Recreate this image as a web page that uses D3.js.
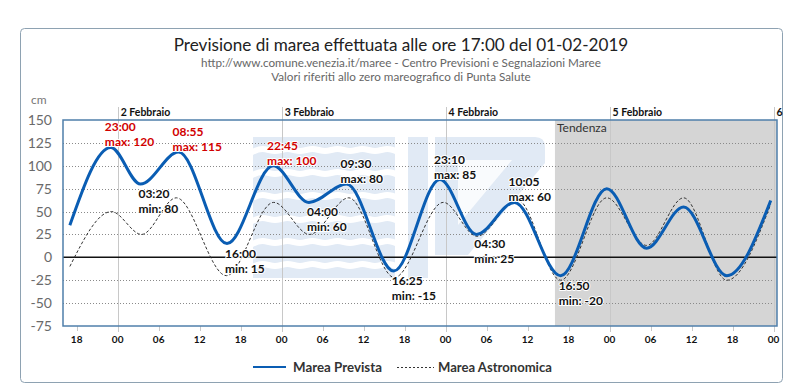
<!DOCTYPE html>
<html>
<head>
<meta charset="utf-8">
<script src="https://cdnjs.cloudflare.com/ajax/libs/d3/7.8.5/d3.min.js"></script>
<style>
body{margin:0;background:#fff;}
svg{display:block;font-family:Lato,"DejaVu Sans",sans-serif;}
</style>
</head>
<body>
<div class="graph"></div>
<script>
// marea prevista (extremes + ends), cm
var prevTimes = ["2019-02-01 17:00","2019-02-01 23:00","2019-02-02 03:20","2019-02-02 08:55","2019-02-02 16:00","2019-02-02 22:45",
	"2019-02-03 04:00","2019-02-03 09:30","2019-02-03 16:25","2019-02-03 23:10","2019-02-04 04:30","2019-02-04 10:05",
	"2019-02-04 16:50","2019-02-04 23:35","2019-02-05 05:25","2019-02-05 10:50","2019-02-05 17:10","2019-02-05 23:35"];
var prevValues = [35,120,80,115,15,100,60,80,-15,85,25,60,-20,75,10,55,-20,62];

// marea astronomica
var astroTimes = ["2019-02-01 17:00","2019-02-01 23:05","2019-02-02 03:30","2019-02-02 08:35","2019-02-02 15:55","2019-02-02 22:50",
	"2019-02-03 04:05","2019-02-03 09:50","2019-02-03 16:30","2019-02-03 23:40","2019-02-04 04:35","2019-02-04 10:30",
	"2019-02-04 16:50","2019-02-04 23:35","2019-02-05 05:25","2019-02-05 10:50","2019-02-05 17:10","2019-02-05 23:35"];
var astroValues = [-10,50,25,65,-20,60,25,65,-22,60,23,63,-25,65,13,65,-25,58];

// labelled extremes (forecast part only)
var labelTimes = ["2019-02-01 23:00","2019-02-02 03:20","2019-02-02 08:55","2019-02-02 16:00","2019-02-02 22:45","2019-02-03 04:00",
	"2019-02-03 09:30","2019-02-03 16:25","2019-02-03 23:10","2019-02-04 04:30","2019-02-04 10:05","2019-02-04 16:50"];
var labelValues = [120,80,115,15,100,60,80,-15,85,25,60,-20];
var labelKinds = ["max","min","max","min","max","min","max","min","max","min","max","min"];

var yTicks = [150,125,100,75,50,25,0,-25,-50,-75];
var dayLabels = ["2 Febbraio","3 Febbraio","4 Febbraio","5 Febbraio","6"];
var xStart = "2019-02-01 16:00", xEnd = "2019-02-06 00:30";
var trendStart = "2019-02-04 16:00";

var title = "Previsione di marea effettuata alle ore 17:00 del 01-02-2019";
var subtitle1 = "http://www.comune.venezia.it/maree - Centro Previsioni e Segnalazioni Maree";
var subtitle2 = "Valori riferiti allo zero mareografico di Punta Salute";

var parse = d3.timeParse("%Y-%m-%d %H:%M");
var hm = d3.timeFormat("%H:%M");

var W = 800, H = 386;
var plot = {left: 63, top: 120, right: 777, bottom: 326};

var x = d3.scaleTime().domain([parse(xStart), parse(xEnd)]).range([plot.left, plot.right]);
var y = d3.scaleLinear().domain([-75, 150]).range([plot.bottom, plot.top]);

var svg = d3.select(".graph").append("svg").attr("width", W).attr("height", H);

// frame
svg.append("rect").attr("x", 20.5).attr("y", 28.5).attr("width", 762).attr("height", 354).attr("rx", 4)
	.style("fill", "#fff").style("stroke", "#8ea2b2");

svg.append("clipPath").attr("id", "plotclip").append("rect")
	.attr("x", plot.left).attr("y", plot.top).attr("width", plot.right - plot.left).attr("height", plot.bottom - plot.top);

function fitText(sel, target) {
	var fs = parseFloat(sel.style("font-size"));
	var w = sel.node().getComputedTextLength();
	sel.style("font-size", (fs * target / w) + "px");
	return fs * target / w;
}

// titles
var cx = 401;
var t = svg.append("text").attr("x", cx).attr("y", 51).attr("text-anchor", "middle")
	.style("font-size", "17px").style("fill", "#222").text(title);
fitText(t, 455);
var s1 = svg.append("text").attr("x", cx).attr("y", 67).attr("text-anchor", "middle")
	.style("font-size", "11px").style("fill", "#666").text(subtitle1);
var fs1 = fitText(s1, 400);
svg.append("text").attr("x", cx).attr("y", 81).attr("text-anchor", "middle")
	.style("font-size", fs1 + "px").style("fill", "#666").text(subtitle2);

svg.append("text").attr("x", 31).attr("y", 104).style("font-size", "12px").style("fill", "#777").text("cm");

// tendenza zone
svg.append("rect").attr("x", x(parse(trendStart))).attr("y", plot.top)
	.attr("width", plot.right - x(parse(trendStart))).attr("height", plot.bottom - plot.top)
	.style("fill", "#d5d5d5");

// watermark
var wm = svg.append("g").attr("clip-path", "url(#plotclip)").style("fill", "#e1eaf5");
wm.append("rect").attr("x", 253).attr("y", 137).attr("width", 142).attr("height", 141);
var waveLine = d3.line().curve(d3.curveBasis);
for (var i = 0; i < 6; i++) {
	var pts = [];
	for (var k = 0; k <= 12; k++) {
		pts.push([250 + k * 12.5, 150 + i * 23 + (k % 2 ? -3 : 3)]);
	}
	wm.append("path").attr("d", waveLine(pts)).style("fill", "none").style("stroke", "#fff").style("stroke-width", 6);
}
wm.append("rect").attr("x", 408).attr("y", 137).attr("width", 20).attr("height", 141);
wm.append("path").attr("d", "M435,137 L535,137 Q545,137 545,147 L545,163 L468,255 L435,255 Z");
wm.append("path").attr("d", "M458,160 L512,160 L458,225 Z").style("fill", "#fff").style("opacity", 0.8);

// horizontal grid
var g = svg.append("g");
g.selectAll(".hgrid").data(yTicks.filter(function (d) { return d !== 0 && d !== 150 && d !== -75; }))
	.enter().append("line").attr("class", "hgrid")
	.attr("x1", plot.left).attr("x2", plot.right)
	.attr("y1", function (d) { return Math.round(y(d)) + 0.5; }).attr("y2", function (d) { return Math.round(y(d)) + 0.5; })
	.style("stroke", "#8a8a8a").style("stroke-dasharray", "1,2");

// day grid lines (extend above & below plot)
var days = dayLabels.map(function (d, i) { return d3.timeDay.offset(parse("2019-02-02 00:00"), i); });
g.selectAll(".vgrid").data(days).enter().append("line").attr("class", "vgrid")
	.attr("x1", function (d) { return Math.round(x(d)) + 0.5; }).attr("x2", function (d) { return Math.round(x(d)) + 0.5; })
	.attr("y1", 107).attr("y2", plot.bottom + 6)
	.style("stroke", "#c8c8c8");

// zero line
g.append("line").attr("x1", plot.left).attr("x2", plot.right).attr("y1", y(0)).attr("y2", y(0))
	.style("stroke", "#111").style("stroke-width", 1.5);

// day labels on top
svg.append("g").selectAll("text").data(days).enter().append("text")
	.attr("x", function (d) { return x(d) + 3; }).attr("y", 116)
	.style("font-size", "10.5px").style("font-weight", "bold").style("fill", "#111")
	.text(function (d, i) { return dayLabels[i]; });

// y axis labels
svg.selectAll(".ylab").data(yTicks).enter().append("text").attr("class", "ylab")
	.attr("x", 52).attr("y", function (d) { return y(d) + 5; }).attr("text-anchor", "end")
	.style("font-size", "14px").style("fill", "#6a6a6a")
	.text(function (d) { return d; });

// x axis ticks every 6h
var xTicks = d3.timeHour.every(6).range(parse("2019-02-01 18:00"), parse("2019-02-06 00:01"));
svg.selectAll(".xt").data(xTicks).enter().append("line").attr("class", "xt")
	.attr("x1", function (d) { return Math.round(x(d)) + 0.5; }).attr("x2", function (d) { return Math.round(x(d)) + 0.5; })
	.attr("y1", plot.bottom).attr("y2", plot.bottom + 5).style("stroke", "#c8c8c8");
svg.selectAll(".xlab").data(xTicks).enter().append("text").attr("class", "xlab")
	.attr("x", function (d) { return x(d); }).attr("y", 343).attr("text-anchor", "middle")
	.style("font-size", "10px").style("font-weight", "bold").style("fill", "#111")
	.text(d3.timeFormat("%H"));

// tendenza label
svg.append("text").attr("x", x(parse(trendStart)) + 2).attr("y", 132)
	.style("font-size", "12px").style("fill", "#333").text("Tendenza");

// curves
var line = d3.line().curve(d3.curveMonotoneX)
	.x(function (d) { return x(d[0]); }).y(function (d) { return y(d[1]); });
var prev = prevTimes.map(function (d, i) { return [parse(d), prevValues[i]]; });
var astro = astroTimes.map(function (d, i) { return [parse(d), astroValues[i]]; });

var curves = svg.append("g").attr("clip-path", "url(#plotclip)");
curves.append("path").attr("d", line(astro))
	.style("fill", "none").style("stroke", "#333").style("stroke-width", 1).style("stroke-dasharray", "3,2");
curves.append("path").attr("d", line(prev))
	.style("fill", "none").style("stroke", "#0a5db3").style("stroke-width", 3);

// plot border
svg.append("rect").attr("x", plot.left).attr("y", plot.top)
	.attr("width", plot.right - plot.left).attr("height", plot.bottom - plot.top)
	.style("fill", "none").style("stroke", "#4f7fab").style("stroke-width", 1.5);

// extreme labels
var labs = svg.selectAll(".ann").data(labelTimes).enter().append("text").attr("class", "ann")
	.attr("transform", function (d, i) {
		var px = x(parse(d)), py = y(labelValues[i]);
		return labelKinds[i] == "max" ? "translate(" + (px - 6) + "," + (py - 16) + ")" : "translate(" + (px - 2) + "," + (py + 14) + ")";
	})
	.style("font-size", "12px").style("font-weight", "bold")
	.style("fill", function (d, i) { return labelValues[i] >= 100 ? "#d10000" : "#111"; })
	.style("stroke", "#fff").style("stroke-width", 2).style("paint-order", "stroke").style("stroke-linejoin", "round");
labs.append("tspan").attr("x", 0).attr("y", 0).text(function (d) { return hm(parse(d)); });
labs.append("tspan").attr("x", 0).attr("y", 15).text(function (d, i) { return labelKinds[i] + ": " + labelValues[i]; });

// legend
var lg = svg.append("g");
lg.append("line").attr("x1", 253).attr("x2", 286).attr("y1", 367).attr("y2", 367)
	.style("stroke", "#0a5db3").style("stroke-width", 2);
var l1 = lg.append("text").attr("x", 293).attr("y", 371.5)
	.style("font-size", "13px").style("font-weight", "bold").style("fill", "#333").text("Marea Prevista");
fitText(l1, 89);
lg.append("line").attr("x1", 397).attr("x2", 434).attr("y1", 367.5).attr("y2", 367.5)
	.style("stroke", "#333").style("stroke-width", 1).style("stroke-dasharray", "2,2");
var l2 = lg.append("text").attr("x", 438).attr("y", 371.5)
	.style("font-size", "13px").style("font-weight", "bold").style("fill", "#333").text("Marea Astronomica");
fitText(l2, 114);
</script>
</body>
</html>
